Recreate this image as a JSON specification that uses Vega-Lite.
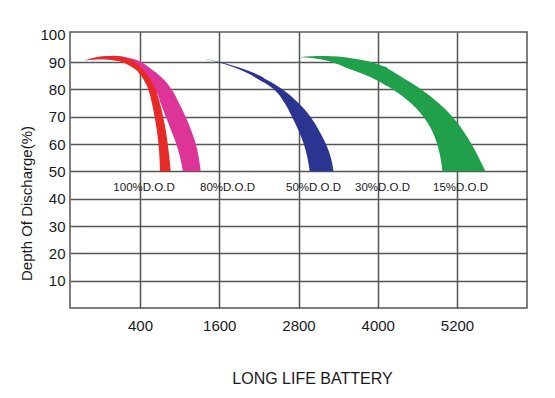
{
  "$schema": "https://vega.github.io/schema/vega-lite/v6.json",
  "width": 457,
  "height": 276,
  "autosize": "none",
  "padding": {"left": 70, "top": 32, "right": 28, "bottom": 90},
  "background": "white",
  "config": {
    "font": "Liberation Sans",
    "view": {"stroke": "#555555", "strokeWidth": 1.5}
  },
  "datasets": {
    "cap": [
      {"s": "red", "x": -433, "hi": 90.6, "lo": 90.6},
      {"s": "red", "x": -300, "hi": 91.6, "lo": 90.9},
      {"s": "red", "x": -150, "hi": 92.1, "lo": 91.0},
      {"s": "red", "x": 0, "hi": 92.3, "lo": 90.7},
      {"s": "red", "x": 100, "hi": 92.1, "lo": 90.2},
      {"s": "red", "x": 200, "hi": 91.5, "lo": 89.2},
      {"s": "red", "x": 300, "hi": 90.4, "lo": 87.8},
      {"s": "red", "x": 400, "hi": 88.3, "lo": 85.6},
      {"s": "red", "x": 500, "hi": 85.6, "lo": 81.5},
      {"s": "pink", "x": -433, "hi": 90.6, "lo": 90.6},
      {"s": "pink", "x": -300, "hi": 91.5, "lo": 90.9},
      {"s": "pink", "x": -150, "hi": 92.0, "lo": 91.0},
      {"s": "pink", "x": 0, "hi": 92.2, "lo": 90.7},
      {"s": "pink", "x": 150, "hi": 91.9, "lo": 90.2},
      {"s": "pink", "x": 300, "hi": 91.1, "lo": 89.5},
      {"s": "pink", "x": 420, "hi": 90.0, "lo": 87.0},
      {"s": "pink", "x": 540, "hi": 88.0, "lo": 84.0},
      {"s": "pink", "x": 660, "hi": 85.8, "lo": 78.2},
      {"s": "blue", "x": 1360, "hi": 91.2, "lo": 91.2},
      {"s": "blue", "x": 1500, "hi": 90.6, "lo": 90.5},
      {"s": "blue", "x": 1700, "hi": 89.5, "lo": 89.1},
      {"s": "blue", "x": 1900, "hi": 88.0, "lo": 87.4},
      {"s": "blue", "x": 2100, "hi": 86.3, "lo": 85.1},
      {"s": "blue", "x": 2270, "hi": 84.3, "lo": 82.6},
      {"s": "green", "x": 2820, "hi": 91.8, "lo": 91.8},
      {"s": "green", "x": 3000, "hi": 92.1, "lo": 91.5},
      {"s": "green", "x": 3150, "hi": 92.2, "lo": 90.9},
      {"s": "green", "x": 3300, "hi": 92.1, "lo": 90.0},
      {"s": "green", "x": 3500, "hi": 91.8, "lo": 88.2},
      {"s": "green", "x": 3700, "hi": 91.0, "lo": 86.4},
      {"s": "green", "x": 3900, "hi": 90.0, "lo": 84.4},
      {"s": "green", "x": 4150, "hi": 87.9, "lo": 81.1}
    ],
    "body": [
      {"s": "red", "y": 50, "xin": 703, "xout": 864},
      {"s": "red", "y": 55, "xin": 695, "xout": 845},
      {"s": "red", "y": 60, "xin": 680, "xout": 820},
      {"s": "red", "y": 65, "xin": 655, "xout": 790},
      {"s": "red", "y": 70, "xin": 620, "xout": 750},
      {"s": "red", "y": 75, "xin": 580, "xout": 700},
      {"s": "red", "y": 80, "xin": 525, "xout": 637},
      {"s": "red", "y": 85, "xin": 420, "xout": 520},
      {"s": "red", "y": 86.2, "xin": 370, "xout": 478},
      {"s": "pink", "y": 50, "xin": 1050, "xout": 1319},
      {"s": "pink", "y": 55, "xin": 1008, "xout": 1290},
      {"s": "pink", "y": 60, "xin": 950, "xout": 1245},
      {"s": "pink", "y": 65, "xin": 872, "xout": 1175},
      {"s": "pink", "y": 70, "xin": 790, "xout": 1090},
      {"s": "pink", "y": 75, "xin": 712, "xout": 990},
      {"s": "pink", "y": 80, "xin": 640, "xout": 880},
      {"s": "pink", "y": 85, "xin": 500, "xout": 700},
      {"s": "pink", "y": 86.2, "xin": 450, "xout": 640},
      {"s": "blue", "y": 50, "xin": 2970, "xout": 3330},
      {"s": "blue", "y": 55, "xin": 2935, "xout": 3290},
      {"s": "blue", "y": 60, "xin": 2880, "xout": 3215},
      {"s": "blue", "y": 65, "xin": 2800, "xout": 3110},
      {"s": "blue", "y": 70, "xin": 2700, "xout": 2980},
      {"s": "blue", "y": 75, "xin": 2590, "xout": 2800},
      {"s": "blue", "y": 80, "xin": 2430, "xout": 2560},
      {"s": "blue", "y": 85, "xin": 2100, "xout": 2210},
      {"s": "green", "y": 50, "xin": 4980, "xout": 5630},
      {"s": "green", "y": 55, "xin": 4950, "xout": 5530},
      {"s": "green", "y": 60, "xin": 4900, "xout": 5420},
      {"s": "green", "y": 65, "xin": 4820, "xout": 5290},
      {"s": "green", "y": 70, "xin": 4690, "xout": 5130},
      {"s": "green", "y": 75, "xin": 4500, "xout": 4920},
      {"s": "green", "y": 80, "xin": 4230, "xout": 4660},
      {"s": "green", "y": 85, "xin": 3850, "xout": 4330},
      {"s": "green", "y": 88.2, "xin": 3500, "xout": 4110}
    ],
    "labels": [
      {"x": 461, "y": 43.9, "t": "100%D.O.D"},
      {"x": 1725, "y": 43.9, "t": "80%D.O.D"},
      {"x": 3027, "y": 43.9, "t": "50%D.O.D"},
      {"x": 4072, "y": 43.9, "t": "30%D.O.D"},
      {"x": 5253, "y": 43.9, "t": "15%D.O.D"}
    ]
  },
  "layer": [
    {
      "data": {"name": "cap"},
      "transform": [{"filter": "datum.s === 'blue'"}],
      "mark": {"type": "area", "interpolate": "monotone", "color": "#2B3591", "orient": "vertical"},
      "encoding": {
        "x": {
          "field": "x", "type": "quantitative",
          "scale": {"domain": [-660, 6260], "nice": false, "zero": false},
          "axis": {
            "values": [400, 1600, 2800, 4000, 5200],
            "tickCount": 20,
            "format": "d",
            "title": "LONG LIFE BATTERY",
            "titleFontSize": 16,
            "titleFontWeight": "normal",
            "titleColor": "#1a1a1a",
            "titleAnchor": null,
            "titleAlign": "center",
            "titleBaseline": "alphabetic",
            "titleX": 242,
            "titleY": 75,
            "labelFontSize": 15,
            "labelColor": "#1a1a1a",
            "labelPadding": 10,
            "labelDx": -5,
            "labelOverlap": false,
            "ticks": false,
            "domain": false,
            "grid": true,
            "gridColor": "#555555",
            "gridWidth": 1.5,
            "gridOpacity": 1
          }
        },
        "y": {
          "field": "hi", "type": "quantitative",
          "scale": {"domain": [0, 101], "nice": false, "zero": false},
          "axis": {
            "values": [10, 20, 30, 40, 50, 60, 70, 80, 90, 100],
            "tickCount": 20,
            "title": "Depth Of Discharge(%)",
            "titleFontSize": 15,
            "titleFontWeight": "normal",
            "titleColor": "#1a1a1a",
            "titleAnchor": null,
            "titleAngle": 270,
            "titleAlign": "center",
            "titleBaseline": "middle",
            "titleX": -44,
            "titleY": 171,
            "labelFontSize": 15,
            "labelColor": "#1a1a1a",
            "labelPadding": 5,
            "labelOverlap": false,
            "ticks": false,
            "domain": false,
            "grid": true,
            "gridColor": "#555555",
            "gridWidth": 1.5,
            "gridOpacity": {"condition": {"test": "datum.value === 100", "value": 0}, "value": 1}
          }
        },
        "y2": {"field": "lo"}
      }
    },
    {
      "data": {"name": "body"},
      "transform": [{"filter": "datum.s === 'blue'"}],
      "mark": {"type": "area", "interpolate": "monotone", "color": "#2B3591", "orient": "horizontal"},
      "encoding": {
        "y": {"field": "y", "type": "quantitative"},
        "x": {"field": "xin", "type": "quantitative"},
        "x2": {"field": "xout"}
      }
    },
    {
      "data": {"name": "cap"},
      "transform": [{"filter": "datum.s === 'green'"}],
      "mark": {"type": "area", "interpolate": "monotone", "color": "#21A04B", "orient": "vertical"},
      "encoding": {
        "x": {"field": "x", "type": "quantitative"},
        "y": {"field": "hi", "type": "quantitative"},
        "y2": {"field": "lo"}
      }
    },
    {
      "data": {"name": "body"},
      "transform": [{"filter": "datum.s === 'green'"}],
      "mark": {"type": "area", "interpolate": "monotone", "color": "#21A04B", "orient": "horizontal"},
      "encoding": {
        "y": {"field": "y", "type": "quantitative"},
        "x": {"field": "xin", "type": "quantitative"},
        "x2": {"field": "xout"}
      }
    },
    {
      "data": {"name": "cap"},
      "transform": [{"filter": "datum.s === 'pink'"}],
      "mark": {"type": "area", "interpolate": "monotone", "color": "#DC3497", "orient": "vertical"},
      "encoding": {
        "x": {"field": "x", "type": "quantitative"},
        "y": {"field": "hi", "type": "quantitative"},
        "y2": {"field": "lo"}
      }
    },
    {
      "data": {"name": "body"},
      "transform": [{"filter": "datum.s === 'pink'"}],
      "mark": {"type": "area", "interpolate": "monotone", "color": "#DC3497", "orient": "horizontal"},
      "encoding": {
        "y": {"field": "y", "type": "quantitative"},
        "x": {"field": "xin", "type": "quantitative"},
        "x2": {"field": "xout"}
      }
    },
    {
      "data": {"name": "cap"},
      "transform": [{"filter": "datum.s === 'red'"}],
      "mark": {"type": "area", "interpolate": "monotone", "color": "#E52A27", "orient": "vertical"},
      "encoding": {
        "x": {"field": "x", "type": "quantitative"},
        "y": {"field": "hi", "type": "quantitative"},
        "y2": {"field": "lo"}
      }
    },
    {
      "data": {"name": "body"},
      "transform": [{"filter": "datum.s === 'red'"}],
      "mark": {"type": "area", "interpolate": "monotone", "color": "#E52A27", "orient": "horizontal"},
      "encoding": {
        "y": {"field": "y", "type": "quantitative"},
        "x": {"field": "xin", "type": "quantitative"},
        "x2": {"field": "xout"}
      }
    },
    {
      "data": {"name": "labels"},
      "mark": {"type": "text", "fontSize": 11.5, "color": "#1a1a1a", "align": "center", "baseline": "middle"},
      "encoding": {
        "x": {"field": "x", "type": "quantitative"},
        "y": {"field": "y", "type": "quantitative"},
        "text": {"field": "t"}
      }
    }
  ]
}
